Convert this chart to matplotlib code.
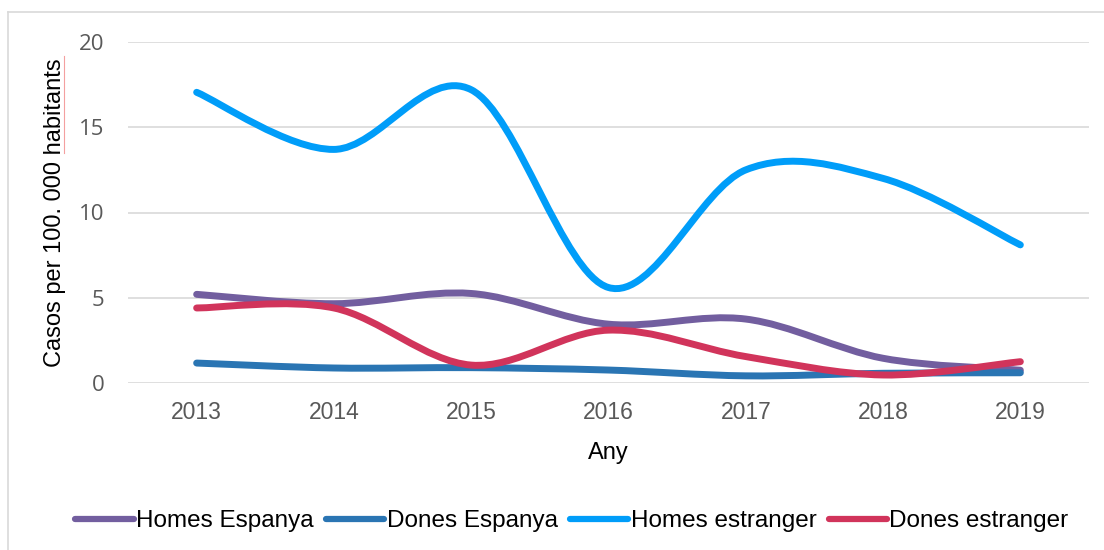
import matplotlib
matplotlib.use("Agg")
import matplotlib.pyplot as plt
import numpy as np
from matplotlib.path import Path
from matplotlib.patches import PathPatch
from matplotlib.lines import Line2D

anys = ["2013", "2014", "2015", "2016", "2017", "2018", "2019"]
homes_espanya = [5.2, 4.65, 5.25, 3.45, 3.75, 1.45, 0.75]
dones_espanya = [1.17, 0.88, 0.9, 0.76, 0.42, 0.57, 0.6]
homes_estranger = [17.05, 13.7, 17.2, 5.6, 12.5, 12.0, 8.1]
dones_estranger = [4.4, 4.4, 1.05, 3.1, 1.55, 0.47, 1.25]

series = [
    ("Homes Espanya", homes_espanya, "#725E9F"),
    ("Dones Espanya", dones_espanya, "#2A75B3"),
    ("Homes estranger", homes_estranger, "#009DF9"),
    ("Dones estranger", dones_estranger, "#D1345B"),
]


def smooth_path(x, y):
    # corba suavitzada tipus Excel (Bezier Catmull-Rom)
    pts = np.column_stack([x, y]).astype(float)
    n = len(pts)
    verts = [pts[0]]
    codes = [Path.MOVETO]
    for i in range(n - 1):
        p0 = pts[max(i - 1, 0)]
        p1 = pts[i]
        p2 = pts[i + 1]
        p3 = pts[min(i + 2, n - 1)]
        c1 = p1 + (p2 - p0) / 6.0
        c2 = p2 - (p3 - p1) / 6.0
        verts += [c1, c2, p2]
        codes += [Path.CURVE4] * 3
    return Path(verts, codes)


fig = plt.figure(figsize=(11.04, 5.5), dpi=100)
ax = fig.add_axes([128 / 1104, 1 - 383 / 550, (1089 - 128) / 1104, 341 / 550])

x = np.arange(len(anys))
for nom, vals, col in series:
    patch = PathPatch(smooth_path(x, vals), fill=False, edgecolor=col, lw=5,
                      capstyle="round", joinstyle="round", zorder=3)
    ax.add_patch(patch)

ax.set_xlim(-0.5, len(anys) - 0.5)
ax.set_ylim(0, 20)
ax.set_yticks([0, 5, 10, 15, 20])
ax.set_xticks(x)
ax.set_xticklabels(anys)
ax.grid(axis="y", color="#D9D9D9", lw=1.2, zorder=0)
for s in ax.spines.values():
    s.set_visible(False)
ax.tick_params(length=0)
ax.tick_params(axis="y", pad=17, labelcolor="#595959", labelsize=16)
ax.tick_params(axis="x", pad=13, labelcolor="#595959", labelsize=16.5)
for t in ax.get_yticklabels():
    t.set_family("Open Sans")
for t in ax.get_xticklabels():
    t.set_family("Liberation Sans")

ax.set_ylabel("Casos per 100. 000 habitants", fontsize=17, family="Liberation Sans", color="black")
ax.yaxis.set_label_coords(-0.0645, 0.5)
ax.set_xlabel("Any", fontsize=17, family="Liberation Sans", color="black")
ax.xaxis.set_label_coords(0.5, -0.173)

# marc del gràfic
fig.add_artist(Line2D([8 / 1104, 8 / 1104], [0, 1 - 12 / 550], transform=fig.transFigure, color="#D9D9D9", lw=1.2))
fig.add_artist(Line2D([8 / 1104, 1], [1 - 12 / 550, 1 - 12 / 550], transform=fig.transFigure, color="#D9D9D9", lw=1.2))
# subratllat del corrector
fig.add_artist(Line2D([64 / 1104, 64 / 1104], [1 - 56 / 550, 1 - 153 / 550], transform=fig.transFigure, color="#F4A0A0", lw=0.8))

handles = [Line2D([], [], color=c, lw=4.5, solid_capstyle="round") for _, _, c in series]
fig.legend(handles, [s[0] for s in series], loc="center", bbox_to_anchor=(572 / 1104, 1 - 521 / 550),
           ncol=4, frameon=False, handlelength=2.4, handletextpad=0.1, columnspacing=0.5,
           prop={"family": "Liberation Sans", "size": 17.5})

fig.savefig("out.png", dpi=100)
